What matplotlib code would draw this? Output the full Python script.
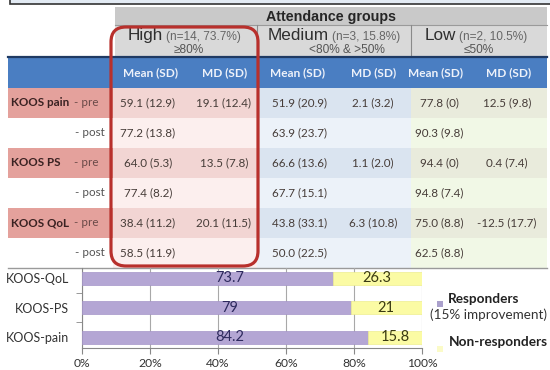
import matplotlib
matplotlib.use("Agg")
import matplotlib.pyplot as plt
from matplotlib.patches import Rectangle, FancyBboxPatch

# ---------------- data ----------------
groups = ["High", "Medium", "Low"]
group_n = ["(n=14, 73.7%)", "(n=3, 15.8%)", "(n=2, 10.5%)"]
group_range = ["\u226580%", "<80% & >50%", "\u226450%"]
col_heads = ["Mean (SD)", "MD (SD)"]
measures = ["KOOS pain", "KOOS PS", "KOOS QoL"]
pre_mean = [["59.1 (12.9)", "51.9 (20.9)", "77.8 (0)"],
            ["64.0 (5.3)", "66.6 (13.6)", "94.4 (0)"],
            ["38.4 (11.2)", "43.8 (33.1)", "75.0 (8.8)"]]
post_mean = [["77.2 (13.8)", "63.9 (23.7)", "90.3 (9.8)"],
             ["77.4 (8.2)", "67.7 (15.1)", "94.8 (7.4)"],
             ["58.5 (11.9)", "50.0 (22.5)", "62.5 (8.8)"]]
md = [["19.1 (12.4)", "2.1 (3.2)", "12.5 (9.8)"],
      ["13.5 (7.8)", "1.1 (2.0)", "0.4 (7.4)"],
      ["20.1 (11.5)", "6.3 (10.8)", "-12.5 (17.7)"]]

bar_cats = ["KOOS-pain", "KOOS-PS", "KOOS-QoL"]
responders = [84.2, 79, 73.7]
non_responders = [15.8, 21, 26.3]
x_ticks = [0, 20, 40, 60, 80, 100]

# ---------------- figure ----------------
W, H = 550, 370
fig = plt.figure(figsize=(W / 100, H / 100), dpi=100)
bg = fig.add_axes([0, 0, 1, 1])
bg.set_xlim(0, W)
bg.set_ylim(H, 0)
bg.axis("off")

BODY = "Lato"
HEAD = "Liberation Sans"
txt_col = "#463c38"

# top box
bg.add_patch(Rectangle((10, -6), 545, 10, facecolor="#e2eaf3", edgecolor="#333333", lw=1.2))

# header rows
col_x = [113, 257, 411, 547]
bg.add_patch(Rectangle((115, 7), 432, 18, facecolor="#c9c9c9", edgecolor="none"))
bg.add_patch(Rectangle((115, 25), 432, 32, facecolor="#d9d9d9", edgecolor="none"))
bg.plot([115, 547], [25, 25], color="#9a9a9a", lw=0.8)
for xd in col_x[1:3]:
    bg.plot([xd, xd], [25, 57], color="#8a8a8a", lw=0.8)
bg.text(331, 16.5, "Attendance groups", ha="center", va="center", fontsize=10.3,
        fontweight="bold", family=HEAD, color="#262626")

split_x = [163, 329, 456]
range_cx = [189, 347, 479]
for i in range(3):
    bg.text(split_x[i], 35.5, groups[i], ha="right", va="center", fontsize=12.3,
            family=HEAD, color="#2e2e2e")
    bg.text(split_x[i] + 3, 37, group_n[i], ha="left", va="center", fontsize=8.6,
            family=HEAD, color="#666666")
    bg.text(range_cx[i], 50, group_range[i], ha="center", va="center", fontsize=8.6,
            family=HEAD, color="#555555")

# blue header
bg.add_patch(Rectangle((8, 57), 539, 31, facecolor="#4a7ec2", edgecolor="none"))
bg.plot([8, 547], [57, 57], color="#1f3a63", lw=1.6)
mean_head_x = [151, 298, 436]
md_head_x = [225, 374, 509]
for i in range(3):
    bg.text(mean_head_x[i], 72.5, col_heads[0], ha="center", va="center", fontsize=8.6,
            fontweight="bold", family=BODY, color="#eef2fa")
    bg.text(md_head_x[i], 72.5, col_heads[1], ha="center", va="center", fontsize=8.6,
            fontweight="bold", family=BODY, color="#eef2fa")

# data rows
y0, rh = 88, 30
label_fill = ["#e4a19c", "#ffffff"]
col_fill = [["#f2d5d3", "#fcefee"], ["#dae4f0", "#ecf2f9"], ["#e9ebdc", "#f1f8e6"]]
mean_cx = [148, 300, 439]
md_cx = [224, 373, 507]
FS = 8.4
for m in range(3):
    for k in range(2):
        r = 2 * m + k
        yt = y0 + r * rh
        yc = yt + rh / 2
        bg.add_patch(Rectangle((8, yt), 105, rh, facecolor=label_fill[k], edgecolor="none"))
        for c in range(3):
            bg.add_patch(Rectangle((col_x[c], yt), col_x[c + 1] - col_x[c], rh,
                                   facecolor=col_fill[c][k], edgecolor="none"))
        if k == 0:
            bg.text(11, yc, measures[m], ha="left", va="center", fontsize=FS,
                    fontweight="bold", family=BODY, color="#3a2222")
            bg.text(98, yc, "- pre", ha="right", va="center", fontsize=FS,
                    family=BODY, color="#6a4a48")
            for c in range(3):
                bg.text(mean_cx[c], yc, pre_mean[m][c], ha="center", va="center",
                        fontsize=FS, family=BODY, color=txt_col)
                bg.text(md_cx[c], yc, md[m][c], ha="center", va="center",
                        fontsize=FS, family=BODY, color=txt_col)
        else:
            bg.text(105, yc, "- post", ha="right", va="center", fontsize=FS,
                    family=BODY, color="#555555")
            for c in range(3):
                bg.text(mean_cx[c], yc, post_mean[m][c], ha="center", va="center",
                        fontsize=FS, family=BODY, color=txt_col)

bg.plot([8, 547], [268, 268], color="#9a9a9a", lw=1.0)

# red rounded frame
bg.add_patch(FancyBboxPatch((111, 27), 147, 239,
                            boxstyle="round,pad=0,rounding_size=15",
                            facecolor="none", edgecolor="#b8302c", lw=2.3, zorder=5))

# ---------------- bar chart ----------------
ax = fig.add_axes([82 / W, 1 - 348 / H, 340 / W, 80 / H])
ypos = list(range(len(bar_cats)))
ax.barh(ypos, responders, height=0.44, color="#b4a6d4", edgecolor="#a595c8", lw=0.5, zorder=3)
ax.barh(ypos, non_responders, left=responders, height=0.44, color="#fbfba4",
        edgecolor="#eeee90", lw=0.5, zorder=3)
for i in ypos:
    ax.text(43.5, i, f"{responders[i]:g}", ha="center", va="center", fontsize=10.5,
            family=BODY, color="#2e2a5e", zorder=4)
    ax.text(responders[i] + non_responders[i] / 2, i, f"{non_responders[i]:g}",
            ha="center", va="center", fontsize=10.5, family=BODY, color="#3a3a12", zorder=4)
ax.set_xlim(0, 100)
ax.set_ylim(-0.37, 2.34)
ax.set_xticks(x_ticks)
ax.set_xticklabels([f"{t}%" for t in x_ticks], fontsize=8.7, family=BODY, color="#333333")
ax.set_yticks(ypos)
ax.set_yticklabels(bar_cats, fontsize=9, family=BODY, color="#333333")
ax.set_yticks([0.5, 1.5], minor=True)
ax.tick_params(axis="y", which="major", length=0, pad=9)
ax.tick_params(axis="y", which="minor", length=4, color="#888888")
ax.tick_params(axis="x", length=4, color="#888888", pad=3)
ax.grid(axis="x", color="#a8a8a8", lw=0.8, zorder=0)
for s in ["top", "right"]:
    ax.spines[s].set_visible(False)
for s in ["left", "bottom"]:
    ax.spines[s].set_color("#888888")
    ax.spines[s].set_linewidth(0.8)
ax.set_facecolor("none")

# legend (manual)
bg.add_patch(Rectangle((437, 301), 6, 6, facecolor="#aaa0cc", edgecolor="none"))
bg.text(448, 299, "Responders", ha="left", va="center", fontsize=9.8, fontweight="bold",
        family=BODY, color="#222222")
bg.text(430, 315, "(15% improvement)", ha="left", va="center", fontsize=9.7,
        family=BODY, color="#333333")
bg.add_patch(Rectangle((437, 346), 6, 6, facecolor="#fbfbc8", edgecolor="none"))
bg.text(449, 342, "Non-responders", ha="left", va="center", fontsize=9.8, fontweight="bold",
        family=BODY, color="#222222")

fig.savefig("out.png", dpi=100)
